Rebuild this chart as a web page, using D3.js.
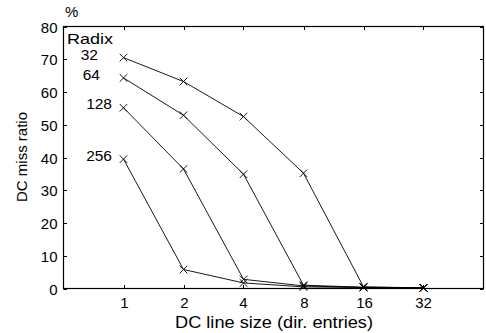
<!DOCTYPE html>
<html><head><meta charset="utf-8">
<script src="https://cdn.jsdelivr.net/npm/d3@7"></script>
<style>body{margin:0;background:#fff}svg{display:block}text{font-family:"Liberation Sans",Arial,sans-serif;fill:#000}</style>
</head><body><svg id="c" width="486" height="333"></svg>
<script>
const categories = ["1","2","4","8","16","32"];
const yTicks = [0,10,20,30,40,50,60,70,80];
const seriesNames = ["32","64","128","256"];
const radix32 = [70.5,63.2,52.5,35.2,0.5,0.2];
const radix64 = [64.3,52.9,34.9,1.0,0.4,0.2];
const radix128 = [55.2,36.5,2.8,0.8,0.3,0.2];
const radix256 = [39.5,5.8,1.7,0.5,0.3,0.2];
const series = [radix32,radix64,radix128,radix256];
const labelPos = [{x:98,y:60},{x:100,y:80},{x:112,y:109},{x:112,y:161}];

const svg = d3.select("#c");
const L=63.5,R=483.5,T=26.5,B=288.5;
const x = d3.scaleLinear().domain([-1,6]).range([L,R]);
const y = d3.scaleLinear().domain([0,80]).range([B,T]);
const fs = 15;

svg.append("rect").attr("x",L).attr("y",T).attr("width",R-L).attr("height",B-T)
  .attr("fill","none").attr("stroke","#000").attr("stroke-width",1.2);
const tl=3.5;
categories.forEach((c,i)=>{
  const xx=Math.round(x(i))+0.5;
  svg.append("line").attr("x1",xx).attr("x2",xx).attr("y1",B).attr("y2",B-tl).attr("stroke","#000");
  svg.append("line").attr("x1",xx).attr("x2",xx).attr("y1",T).attr("y2",T+tl).attr("stroke","#000");
  svg.append("text").attr("x",xx).attr("y",B+19).attr("text-anchor","middle").attr("font-size",fs).text(c);
});
yTicks.forEach(v=>{
  const yy=Math.round(y(v))+0.5;
  svg.append("line").attr("x1",L).attr("x2",L+tl).attr("y1",yy).attr("y2",yy).attr("stroke","#000");
  svg.append("line").attr("x1",R).attr("x2",R-tl).attr("y1",yy).attr("y2",yy).attr("stroke","#000");
  svg.append("text").attr("x",L-6).attr("y",yy+5.5).attr("text-anchor","end").attr("font-size",fs).text(v);
});
svg.append("text").attr("x",65).attr("y",17).attr("font-size",fs).text("%");
svg.append("text").attr("x",175).attr("y",328).attr("font-size",17)
  .attr("textLength",198).attr("lengthAdjust","spacingAndGlyphs").text("DC line size (dir. entries)");
svg.append("text").attr("transform","translate(27,157) rotate(-90)").attr("text-anchor","middle").attr("font-size",fs).text("DC miss ratio");

const line = d3.line().x((d,i)=>x(i)).y(d=>y(d));
series.forEach((s,k)=>{
  svg.append("path").attr("d",line(s)).attr("fill","none").attr("stroke","#000").attr("stroke-width",0.9);
  s.forEach((v,i)=>{
    const cx=x(i),cy=y(v),m=3.8;
    svg.append("path").attr("d",`M${cx-m},${cy-m}L${cx+m},${cy+m}M${cx-m},${cy+m}L${cx+m},${cy-m}`)
      .attr("stroke","#000").attr("stroke-width",0.9);
  });
  svg.append("text").attr("x",labelPos[k].x).attr("y",labelPos[k].y).attr("text-anchor","end").attr("font-size",15.5).text(seriesNames[k]);
});
svg.append("text").attr("x",67).attr("y",44).attr("font-size",15.5)
  .attr("textLength",46).attr("lengthAdjust","spacingAndGlyphs").text("Radix");
</script></body></html>
